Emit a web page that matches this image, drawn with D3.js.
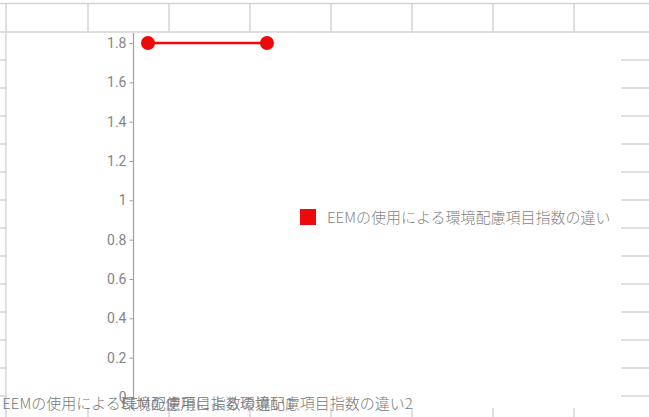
<!DOCTYPE html>
<html>
<head>
<meta charset="utf-8">
<script src="https://cdn.jsdelivr.net/npm/d3@7"></script>
<style>
  html, body { margin: 0; padding: 0; background: #fff; overflow: hidden; }
  svg { display: block; }
</style>
</head>
<body>
<svg id="chart" width="649" height="417"></svg>
<script>
// ---- data ----
const categories = ["EEMの使用による環境配慮項目指数の違い1", "EEMの使用による環境配慮項目指数の違い2"];
const seriesName = "EEMの使用による環境配慮項目指数の違い";
const seriesValues = [1.8, 1.8];
const yTicks = [0, 0.2, 0.4, 0.6, 0.8, 1, 1.2, 1.4, 1.6, 1.8];

// spreadsheet background grid
const colLines = [6, 88, 169, 250, 331, 412, 493, 574];
const rowLines = [32, 60, 88, 116, 144, 172, 200, 228, 256, 284, 312, 340, 368, 396];

const svg = d3.select("#chart");
const gridColor = "#d4d4d4";
const textColor = "#858585";
const red = "#ee0a0a";

// background sheet grid
const bg = svg.append("g");
bg.append("line").attr("x1", 0).attr("x2", 649).attr("y1", 3.5).attr("y2", 3.5)
  .attr("stroke", gridColor).attr("stroke-width", 1.5);
colLines.forEach(x => {
  bg.append("line").attr("x1", x).attr("x2", x).attr("y1", 3).attr("y2", 417)
    .attr("stroke", gridColor).attr("stroke-width", 1.5);
});
rowLines.forEach(y => {
  bg.append("line").attr("x1", 0).attr("x2", 649).attr("y1", y).attr("y2", y)
    .attr("stroke", gridColor).attr("stroke-width", 1.5);
});

// chart area (white, covers grid)
const chartBox = { x0: 6.8, y0: 33, x1: 621, y1: 408 };
svg.append("rect")
  .attr("x", chartBox.x0).attr("y", chartBox.y0)
  .attr("width", chartBox.x1 - chartBox.x0).attr("height", chartBox.y1 - chartBox.y0)
  .attr("fill", "#fff");

// scales
const y = d3.scaleLinear().domain([0, 1.8]).range([397, 43]);
const x = d3.scalePoint().domain(categories).range([148, 267]);
const axisX = 133.5;

// y axis
const yAxis = d3.axisLeft(y).tickValues(yTicks).tickSize(4).tickPadding(3)
  .tickFormat(d => d3.format("~g")(d));
const gy = svg.append("g").attr("transform", `translate(${axisX},0)`).call(yAxis);
gy.select(".domain").remove();
gy.selectAll(".tick line").attr("stroke", "#a0a0a0");
gy.selectAll(".tick text")
  .attr("fill", textColor)
  .style("font-family", "Roboto, 'Noto Sans', sans-serif")
  .style("font-size", "14px");
svg.append("line")
  .attr("x1", axisX).attr("x2", axisX).attr("y1", 33).attr("y2", y(0))
  .attr("stroke", "#a0a0a0").attr("stroke-width", 1.2);

// x category labels (overlapping, as in the reference)
svg.append("g").selectAll("text").data(categories).join("text")
  .attr("x", d => x(d))
  .attr("y", 409)
  .attr("text-anchor", "middle")
  .attr("fill", "#777")
  .style("font-family", "'Noto Sans CJK JP', sans-serif")
  .style("font-size", "15px")
  .style("font-weight", "300")
  .text(d => d);

// series line
const line = d3.line().x((d, i) => x(categories[i])).y(d => y(d));
svg.append("path").datum(seriesValues)
  .attr("d", line)
  .attr("fill", "none")
  .attr("stroke", red)
  .attr("stroke-width", 2.5);

svg.append("g").selectAll("circle").data(seriesValues).join("circle")
  .attr("cx", (d, i) => x(categories[i]))
  .attr("cy", d => y(d))
  .attr("r", 7)
  .attr("fill", red);

// legend
const lg = svg.append("g").attr("transform", "translate(300,209)");
lg.append("rect").attr("width", 16).attr("height", 16).attr("fill", red);
lg.append("text")
  .attr("x", 27).attr("y", 14)
  .attr("fill", textColor)
  .style("font-family", "'Noto Sans CJK JP', sans-serif")
  .style("font-size", "15px")
  .style("font-weight", "300")
  .text(seriesName);
</script>
</body>
</html>
